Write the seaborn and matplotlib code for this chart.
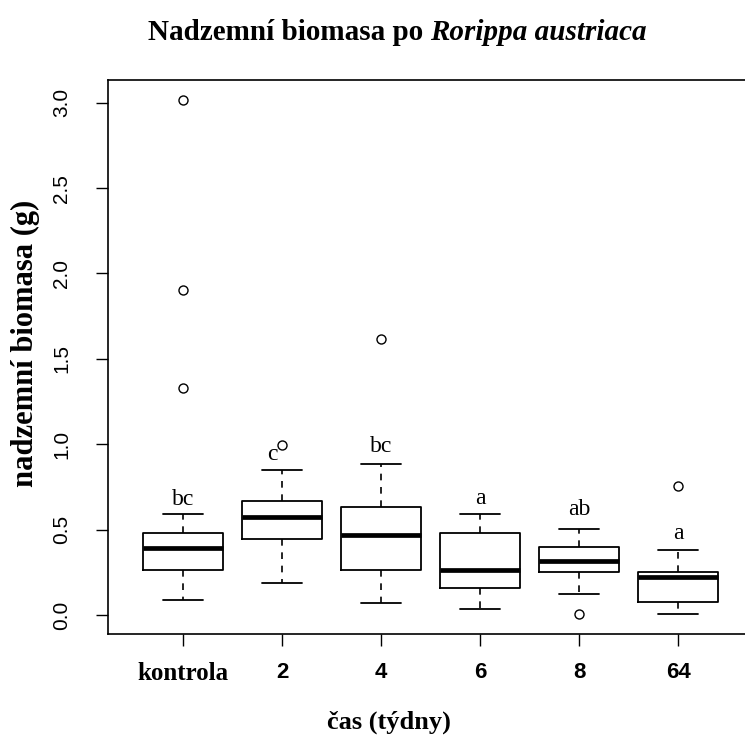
import matplotlib
matplotlib.use("Agg")
import matplotlib.pyplot as plt
import seaborn as sns
import pandas as pd

# ---- data ----
groups = ["kontrola", "2", "4", "6", "8", "64"]
whisker_low = [0.088, 0.187, 0.070, 0.035, 0.123, 0.006]
q1 = [0.264, 0.445, 0.264, 0.158, 0.252, 0.076]
median = [0.392, 0.574, 0.468, 0.264, 0.316, 0.223]
q3 = [0.480, 0.668, 0.632, 0.480, 0.398, 0.252]
whisker_high = [0.591, 0.849, 0.884, 0.591, 0.504, 0.381]
outlier_group = ["kontrola", "kontrola", "kontrola", "2", "4", "8", "64"]
outlier_value = [3.016, 1.903, 1.329, 0.995, 1.616, 0.006, 0.755]
letters = ["bc", "c", "bc", "a", "ab", "a"]
letter_y = [0.679, 0.937, 0.984, 0.685, 0.615, 0.480]
y_ticks = [0.0, 0.5, 1.0, 1.5, 2.0, 2.5, 3.0]
y_tick_labels = ["0.0", "0.5", "1.0", "1.5", "2.0", "2.5", "3.0"]

sns.set_theme(style="white")
plt.rcParams["font.family"] = ["Liberation Serif", "DejaVu Serif"]
plt.rcParams.update({"text.color": "black", "axes.labelcolor": "black",
                     "xtick.color": "black", "ytick.color": "black",
                     "axes.edgecolor": "black"})

W, H = 745, 742
fig = plt.figure(figsize=(W / 100, H / 100), dpi=100)
left, right, top, bottom = 108, 751, 80, 634
ax = fig.add_axes([left / W, 1 - bottom / H, (right - left) / W, (bottom - top) / H])

stats = []
for i, g in enumerate(groups):
    stats.append(dict(label=g, whislo=whisker_low[i], q1=q1[i], med=median[i],
                      q3=q3[i], whishi=whisker_high[i], fliers=[]))

ax.bxp(stats, positions=list(range(len(groups))), widths=0.8, capwidths=0.4,
       showfliers=False, manage_ticks=False, patch_artist=False,
       boxprops=dict(color="black", linewidth=1.3),
       medianprops=dict(color="black", linewidth=3.4, solid_capstyle="butt"),
       whiskerprops=dict(color="black", linewidth=1.2, linestyle=(0, (4, 4))),
       capprops=dict(color="black", linewidth=1.3))

out_df = pd.DataFrame({"grp": outlier_group, "val": outlier_value})
sns.stripplot(data=out_df, x="grp", y="val", order=groups, jitter=False,
              color="white", edgecolor="black", linewidth=1.0, size=6.5,
              ax=ax, zorder=5)

# letters
for i, (lab, yy) in enumerate(zip(letters, letter_y)):
    dx = -0.1 if lab == "c" else 0.0
    ax.text(i + dx, yy, lab, ha="center", va="center", fontsize=17,
            family=["Liberation Serif"], color="black")

ax.set_xlim((left - 183) / 99, (right - 183) / 99)
ax.set_ylim((615 - bottom) / 170.77, (615 - top) / 170.77)

ax.set_xticks(list(range(len(groups))))
ax.set_xticklabels(groups)
for t in ax.get_xticklabels():
    if t.get_text() == "kontrola":
        t.set_fontfamily(["Liberation Serif"])
        t.set_fontsize(18)
    else:
        t.set_fontfamily(["Liberation Sans"])
        t.set_fontsize(16)
    t.set_fontweight("bold")
    t.set_color("black")
ax.tick_params(axis="x", length=8.5, width=1.0, color="black", pad=12,
               direction="out", bottom=True)

ax.set_yticks(y_ticks)
ax.set_yticklabels(y_tick_labels, rotation=90, va="center",
                   fontfamily=["Liberation Sans"], fontsize=15, color="black")
ax.tick_params(axis="y", length=8.5, width=1.0, color="black", pad=18,
               direction="out", left=True)

for s in ax.spines.values():
    s.set_color("black")
    s.set_linewidth(1.2)

ax.set_xlabel("")
ax.set_ylabel("")
fig.text(25 / W, 1 - 343 / H, "nadzemní biomasa (g)", rotation=90,
         ha="center", va="center", fontsize=22, fontweight="bold",
         family=["Liberation Serif"], color="black")
fig.text(389 / W, 1 - 722 / H, "čas (týdny)", ha="center", va="center",
         fontsize=19, fontweight="bold", family=["Liberation Serif"],
         color="black")

t1 = fig.text(148 / W, 1 - 40 / H, "Nadzemní biomasa po ", ha="left",
              va="baseline", fontsize=21, fontweight="bold",
              family=["Liberation Serif"], color="black")
ax.annotate("Rorippa austriaca", xy=(1, 0), xycoords=t1, ha="left",
            va="bottom", fontsize=21, fontweight="bold", fontstyle="italic",
            family=["Liberation Serif"], color="black", annotation_clip=False)

fig.savefig("out.png", dpi=100)
